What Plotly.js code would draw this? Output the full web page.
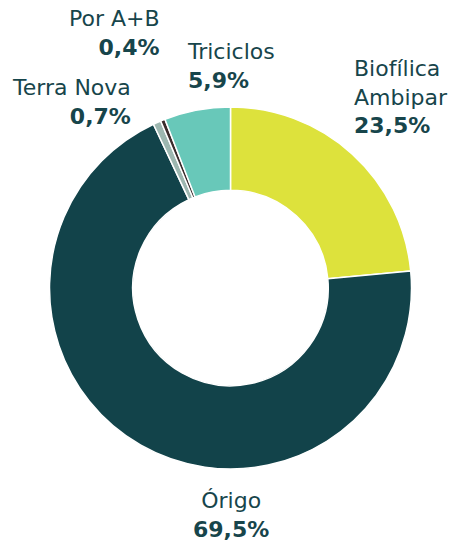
<!DOCTYPE html>
<html>
<head>
<meta charset="utf-8">
<script src="https://cdn.plot.ly/plotly-3.0.1.min.js"></script>
<style>
  html, body { margin: 0; padding: 0; background: #fff; }
  #graph { width: 453px; height: 542px; }
</style>
</head>
<body>
<div id="graph"></div>
<script>
const names = ['Biofílica<br>Ambipar', 'Órigo', 'Terra Nova', 'Por A+B', 'Triciclos'];
const shares = [23.5, 69.5, 0.7, 0.4, 5.9];
const colors = ['#dde23c', '#12434a', '#9db7b0', '#3a2c2c', '#68c8b9'];

const W = 453, H = 542;
const textColor = '#17454b';

// label placement in pixels: [x, y center, xanchor]
const labelPos = [
  [352, 97, 'left'],
  [231, 515, 'center'],
  [133, 102, 'right'],
  [162, 33, 'right'],
  [185, 66, 'left']
];

function pct(v) {
  return v.toFixed(1).replace('.', ',') + '%';
}

const trace = {
  type: 'pie',
  labels: names,
  values: shares,
  hole: 0.54,
  sort: false,
  direction: 'clockwise',
  rotation: 0,
  textinfo: 'none',
  hoverinfo: 'label+percent',
  marker: { colors: colors, line: { color: '#ffffff', width: 1.5 } },
  domain: { x: [49.5 / W, 411.5 / W], y: [1 - 469 / H, 1 - 107 / H] },
  showlegend: false
};

const annotations = names.map((n, i) => ({
  xref: 'paper', yref: 'paper',
  x: labelPos[i][0] / W,
  y: 1 - labelPos[i][1] / H,
  xanchor: labelPos[i][2],
  yanchor: 'middle',
  align: labelPos[i][2],
  showarrow: false,
  text: n + '<br><b>' + pct(shares[i]) + '</b>',
  font: { family: 'DejaVu Sans', size: 22, color: textColor }
}));

const layout = {
  width: W,
  height: H,
  margin: { l: 0, r: 0, t: 0, b: 0 },
  paper_bgcolor: '#ffffff',
  annotations: annotations
};

Plotly.newPlot('graph', [trace], layout, { displayModeBar: false, staticPlot: true });
</script>
</body>
</html>
